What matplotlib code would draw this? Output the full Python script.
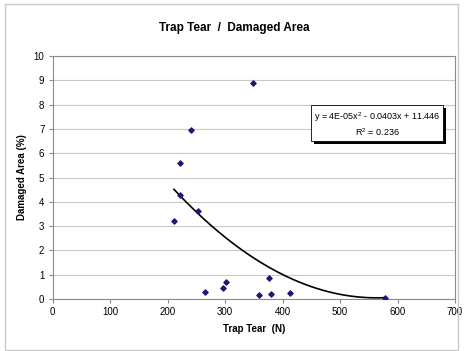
import numpy as np
import matplotlib
matplotlib.use("Agg")
import matplotlib.pyplot as plt
import matplotlib.patheffects as pe
from matplotlib.patches import Rectangle

# Datos
trap_tear = [211, 221, 221, 240, 253, 265, 297, 301, 348, 359, 376, 380, 413, 578]
damaged_area = [3.21, 4.27, 5.58, 6.95, 3.63, 0.29, 0.44, 0.69, 8.88, 0.16, 0.88, 0.20, 0.26, 0.05]
eq_text = "y = 4E-05x$^2$ - 0.0403x + 11.446\nR$^2$ = 0.236"

plt.rcParams['font.family'] = ['Liberation Sans', 'DejaVu Sans']
plt.rcParams['mathtext.fontset'] = 'custom'
plt.rcParams['mathtext.rm'] = 'Liberation Sans'

fig = plt.figure(figsize=(4.68, 3.51), dpi=100)
ax = fig.add_axes([0.1126, 0.148, 0.8597, 0.6925])

# marco exterior gris
fig.patches.append(Rectangle((5 / 468, 1 - 350 / 351), 453 / 468, 346 / 351,
                             transform=fig.transFigure, fill=False,
                             edgecolor="#c8c8c8", linewidth=1))

ax.scatter(trap_tear, damaged_area, marker="D", s=7, color="#1a1a70", zorder=3)

# linea de tendencia polinomica de orden 2
coef = np.polyfit(trap_tear, damaged_area, 2)
xs = np.linspace(min(trap_tear), max(trap_tear), 200)
ax.plot(xs, np.polyval(coef, xs), color="black", linewidth=1.2, zorder=2)

ax.set_xlim(0, 700)
ax.set_ylim(0, 10)
ax.set_xticks(range(0, 701, 100))
ax.set_yticks(range(0, 11))
ax.yaxis.grid(True, color="#c8c8c8", linewidth=0.8)
ax.set_axisbelow(True)
for s in ax.spines.values():
    s.set_color("#8c8c8c")
    s.set_linewidth(0.8)
ax.tick_params(labelsize=7, length=3, width=0.8, color="#8c8c8c", pad=3)

ax.set_xlabel("Trap Tear  (N)", fontsize=7, fontweight="bold", labelpad=5)
ax.set_ylabel("Damaged Area (%)", fontsize=7, fontweight="bold", labelpad=5)
fig.text(0.5, 1 - 28 / 351, "Trap Tear  /  Damaged Area", ha="center", va="center",
         fontsize=8.5, fontweight="bold")

t = ax.text(0.806, 0.72, eq_text, transform=ax.transAxes, ha="center", va="center",
            fontsize=6.5, linespacing=1.3,
            bbox=dict(boxstyle="square,pad=0.3", facecolor="white",
                      edgecolor="black", linewidth=0.6))
t.get_bbox_patch().set_path_effects([
    pe.SimplePatchShadow(offset=(2, -2), shadow_rgbFace="black", alpha=1),
    pe.Normal()])

fig.savefig("out.png", dpi=100)
